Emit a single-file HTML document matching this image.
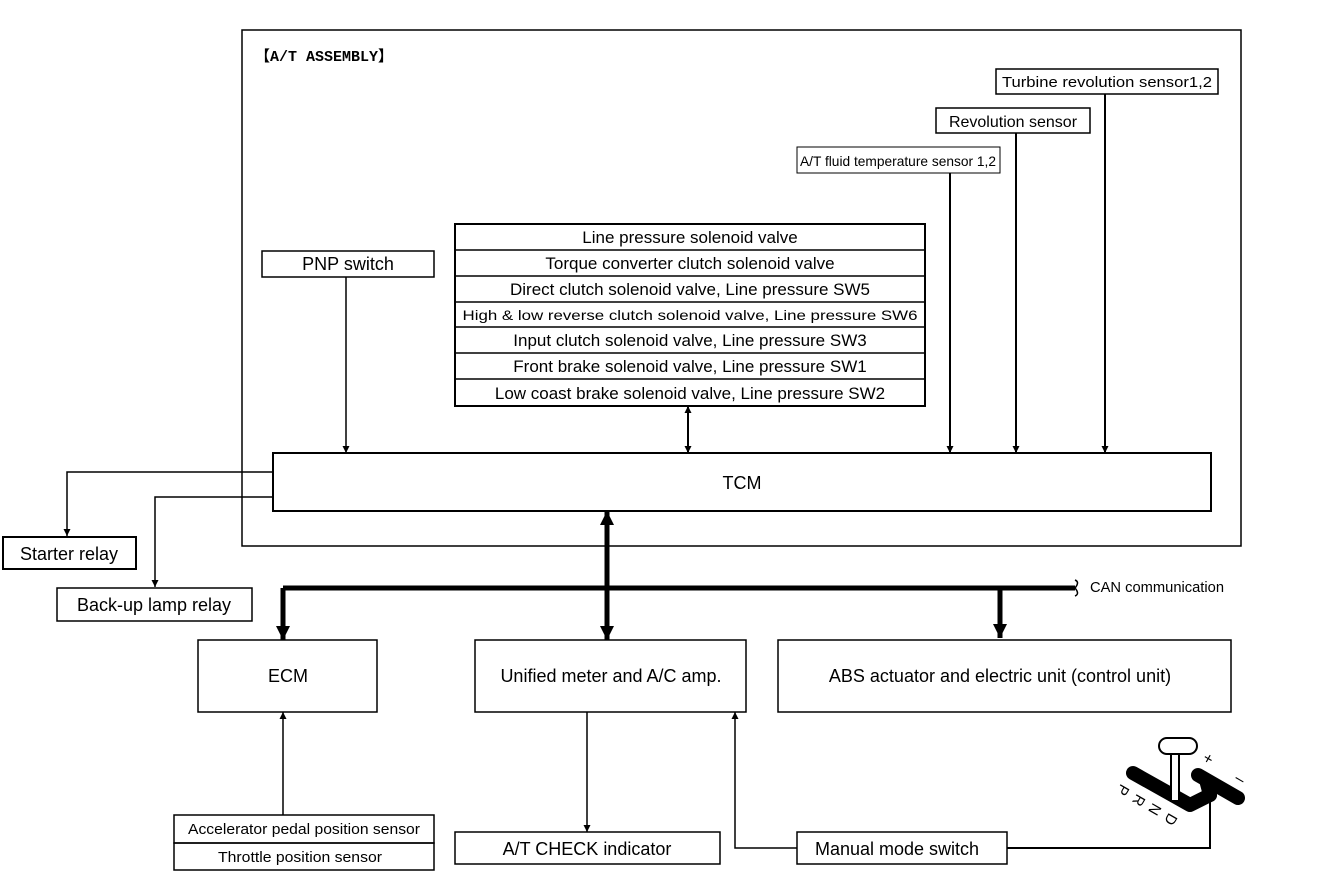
<!DOCTYPE html>
<html><head><meta charset="utf-8"><style>
html,body{margin:0;padding:0;background:#fff}
svg{display:block}
text{font-family:"Liberation Sans",sans-serif;fill:#000}
</style></head><body>
<svg width="1328" height="888" viewBox="0 0 1328 888" xmlns="http://www.w3.org/2000/svg">
<defs>
<marker id="a" viewBox="0 0 10 10" refX="10" refY="5" markerWidth="7" markerHeight="9" orient="auto" markerUnits="userSpaceOnUse"><path d="M0,0L10,5L0,10z"/></marker>
<marker id="b" viewBox="0 0 10 10" refX="10" refY="5" markerWidth="14" markerHeight="14" orient="auto" markerUnits="userSpaceOnUse"><path d="M0,0L10,5L0,10z"/></marker>
</defs>
<g fill="none" stroke="#000" stroke-width="1.5">
<rect x="242" y="30" width="999" height="516"/>
<rect x="996" y="69" width="222" height="25"/>
<rect x="936" y="108" width="154" height="25"/>
<rect x="797" y="147" width="203" height="26" stroke-width="1"/>
<rect x="262" y="251" width="172" height="26"/>
<rect x="455" y="224" width="470" height="182" stroke-width="2"/>
<path d="M455 250H925M455 276H925M455 302H925M455 327H925M455 353H925M455 379H925"/>
<rect x="273" y="453" width="938" height="58" stroke-width="2"/>
<rect x="3" y="537" width="133" height="32" stroke-width="2"/>
<rect x="57" y="588" width="195" height="33"/>
<rect x="198" y="640" width="179" height="72"/>
<rect x="475" y="640" width="271" height="72"/>
<rect x="778" y="640" width="453" height="72"/>
<rect x="174" y="815" width="260" height="28"/>
<rect x="174" y="843" width="260" height="27"/>
<rect x="455" y="832" width="265" height="32"/>
<rect x="797" y="832" width="210" height="32"/>
<path d="M346 277V453" marker-end="url(#a)"/>
<path d="M950 173V453" marker-end="url(#a)" stroke-width="2"/>
<path d="M1016 133V453" marker-end="url(#a)" stroke-width="2"/>
<path d="M1105 94V453" marker-end="url(#a)" stroke-width="2"/>
<path d="M688 430V453" marker-end="url(#a)" stroke-width="2"/>
<path d="M688 430V406" marker-end="url(#a)" stroke-width="2"/>
<path d="M273 472H67V536" marker-end="url(#a)"/>
<path d="M273 497H155V587" marker-end="url(#a)"/>
<path d="M283 815V712" marker-end="url(#a)"/>
<path d="M587 712V832" marker-end="url(#a)"/>
<path d="M797 848H735V712" marker-end="url(#a)"/>
<path d="M1007 848H1210V800" stroke-width="2"/>
<path d="M283 588H1075" stroke-width="5"/>
<path d="M1075 588q5 -6 0 -8M1075 588q5 6 0 8" stroke-width="1.5"/>
<path d="M283 588V640" stroke-width="5" marker-end="url(#b)"/>
<path d="M1000 588V638" stroke-width="5" marker-end="url(#b)"/>
<path d="M607 560V640" stroke-width="5" marker-end="url(#b)"/>
<path d="M607 560V511" stroke-width="5" marker-end="url(#b)"/>
</g>
<g>
<path d="M1133 773L1190 805L1210 795" fill="none" stroke="#000" stroke-width="14" stroke-linecap="round" stroke-linejoin="round"/>
<path d="M1198 775L1238 798" fill="none" stroke="#000" stroke-width="14" stroke-linecap="round"/>
<path d="M1210 795L1206 780" fill="none" stroke="#000" stroke-width="14" stroke-linecap="round"/>
<rect x="1171" y="753" width="8" height="48" fill="#fff" stroke="#000" stroke-width="2"/>
<rect x="1159" y="738" width="38" height="16" rx="8" fill="#fff" stroke="#000" stroke-width="2"/>
<text x="1203" y="765" font-size="16" transform="rotate(30 1210 760)">+</text>
<text x="1235" y="784" font-size="16" transform="rotate(30 1240 780)">–</text>
<text x="1118" y="795" font-size="15" transform="rotate(120 1123 790)">P</text>
<text x="1134" y="805" font-size="15" transform="rotate(120 1139 800)">R</text>
<text x="1150" y="814" font-size="15" transform="rotate(120 1155 809)">N</text>
<text x="1166" y="824" font-size="15" transform="rotate(120 1171 819)">D</text>
</g>
<text x="255" y="61" font-size="15" font-weight="bold" style="font-family:'Liberation Mono','Noto Sans CJK JP',monospace">【A/T ASSEMBLY】</text>
<text x="1107" y="87" font-size="15" text-anchor="middle" textLength="210" lengthAdjust="spacingAndGlyphs">Turbine revolution sensor1,2</text>
<text x="1013" y="127" font-size="16" text-anchor="middle">Revolution sensor</text>
<text x="898" y="166" font-size="14" text-anchor="middle" textLength="196" lengthAdjust="spacingAndGlyphs">A/T fluid temperature sensor 1,2</text>
<text x="348" y="270" font-size="18" text-anchor="middle">PNP switch</text>
<g font-size="17" text-anchor="middle">
<text x="690" y="243">Line pressure solenoid valve</text>
<text x="690" y="269">Torque converter clutch solenoid valve</text>
<text x="690" y="295">Direct clutch solenoid valve, Line pressure SW5</text>
<text x="690" y="320" font-size="14" textLength="455" lengthAdjust="spacingAndGlyphs">High &amp; low reverse clutch solenoid valve, Line pressure SW6</text>
<text x="690" y="346">Input clutch solenoid valve, Line pressure SW3</text>
<text x="690" y="372">Front brake solenoid valve, Line pressure SW1</text>
<text x="690" y="399">Low coast  brake solenoid valve, Line pressure SW2</text>
</g>
<text x="742" y="489" font-size="18" text-anchor="middle">TCM</text>
<text x="69" y="560" font-size="18" text-anchor="middle">Starter relay</text>
<text x="154" y="611" font-size="18" text-anchor="middle">Back-up lamp relay</text>
<text x="1090" y="592" font-size="15" textLength="134" lengthAdjust="spacingAndGlyphs">CAN communication</text>
<text x="288" y="682" font-size="18" text-anchor="middle">ECM</text>
<text x="611" y="682" font-size="18" text-anchor="middle">Unified meter and A/C amp.</text>
<text x="1000" y="682" font-size="18" text-anchor="middle">ABS actuator and electric unit (control unit)</text>
<text x="304" y="834" font-size="15" text-anchor="middle" textLength="232" lengthAdjust="spacingAndGlyphs">Accelerator pedal position sensor</text>
<text x="300" y="862" font-size="15" text-anchor="middle" textLength="164" lengthAdjust="spacingAndGlyphs">Throttle position sensor</text>
<text x="587" y="855" font-size="18" text-anchor="middle">A/T CHECK indicator</text>
<text x="897" y="855" font-size="18" text-anchor="middle">Manual mode switch</text>
</svg>
</body></html>
